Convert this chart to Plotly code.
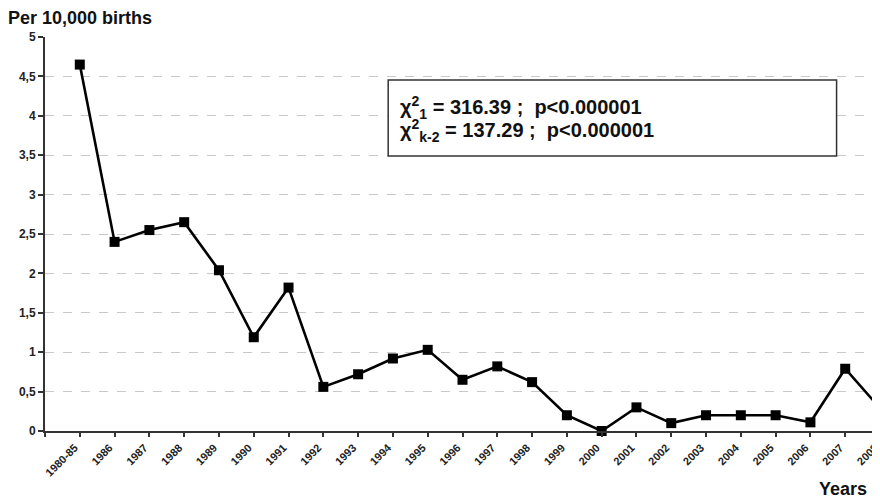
"""Rate per 10,000 births by year, with chi-square trend box."""

import plotly.graph_objects as go

years = [
    "1980-85", "1986", "1987", "1988", "1989", "1990", "1991", "1992",
    "1993", "1994", "1995", "1996", "1997", "1998", "1999", "2000",
    "2001", "2002", "2003", "2004", "2005", "2006", "2007", "2008",
]
rate = [
    4.65, 2.40, 2.55, 2.65, 2.04, 1.19, 1.82, 0.56,
    0.72, 0.92, 1.03, 0.65, 0.82, 0.62, 0.20, 0.00,
    0.30, 0.10, 0.20, 0.20, 0.20, 0.11, 0.79, 0.29,
]
y_ticks = [0, 0.5, 1, 1.5, 2, 2.5, 3, 3.5, 4, 4.5, 5]
y_tick_text = ["0", "0,5", "1", "1,5", "2", "2,5", "3", "3,5", "4", "4,5", "5"]
stats_lines = [
    "χ<sup>2</sup><sub>1</sub> = 316.39 ;&nbsp; p<0.000001",
    "χ<sup>2</sup><sub>k-2</sub> = 137.29 ;&nbsp; p<0.000001",
]

FONT = "Arial, Liberation Sans, sans-serif"
AXIS = "#333333"

x_index = list(range(len(years)))

fig = go.Figure()
fig.add_trace(
    go.Scatter(
        x=x_index,
        y=rate,
        mode="lines+markers",
        line={"color": "black", "width": 2.6},
        marker={"symbol": "square", "size": 10, "color": "black"},
        cliponaxis=False,
        showlegend=False,
    )
)

fig.update_xaxes(
    range=[-1, len(years) - 1],
    tickvals=[-1] + x_index,
    ticktext=[""] + [f"<b>{y}</b>" for y in years],
    tickangle=-45,
    tickfont={"size": 11, "color": "#222", "family": FONT},
    ticklabelshift=-5,
    ticks="outside",
    ticklen=4,
    tickcolor=AXIS,
    tickwidth=1.5,
    showline=True,
    linecolor=AXIS,
    linewidth=2,
    showgrid=False,
    zeroline=False,
    automargin=False,
)
fig.update_yaxes(
    range=[0, 5],
    tickvals=y_ticks,
    ticktext=[f"<b>{t}</b>" for t in y_tick_text],
    tickfont={"size": 12, "color": "#222", "family": FONT},
    ticks="outside",
    ticklen=5,
    tickcolor=AXIS,
    tickwidth=1.5,
    showline=True,
    linecolor=AXIS,
    linewidth=2,
    showgrid=True,
    gridcolor="#c8c8c8",
    griddash="dash",
    gridwidth=1,
    zeroline=False,
    automargin=False,
)

# stats box
fig.add_shape(
    type="rect", xref="paper", yref="paper",
    x0=0.411, x1=0.948, y0=0.698, y1=0.891,
    line={"color": AXIS, "width": 1.5},
    fillcolor="white",
    layer="above",
)
for i, line in enumerate(stats_lines):
    fig.add_annotation(
        xref="paper", yref="paper",
        x=0.423, y=0.820 - i * 0.058,
        xanchor="left", yanchor="middle",
        text=f"<b>{line}</b>",
        showarrow=False,
        font={"size": 20, "color": "#111", "family": FONT},
    )

fig.add_annotation(
    xref="paper", yref="paper", x=-0.047, y=1.047,
    xanchor="left", yanchor="middle",
    text="<b>Per 10,000 births</b>", showarrow=False,
    font={"size": 18, "color": "#111", "family": FONT},
)
fig.add_annotation(
    xref="paper", yref="paper", x=0.987, y=-0.147,
    xanchor="right", yanchor="middle",
    text="<b>Years</b>", showarrow=False,
    font={"size": 18, "color": "#111", "family": FONT},
)

# the page body adds an 8px offset, so margins are trimmed by that
fig.update_layout(
    width=880,
    height=498,
    margin={"l": 37, "r": 8, "t": 29, "b": 75},
    plot_bgcolor="white",
    paper_bgcolor="white",
    font={"family": FONT},
)

fig.write_html("out.html")
